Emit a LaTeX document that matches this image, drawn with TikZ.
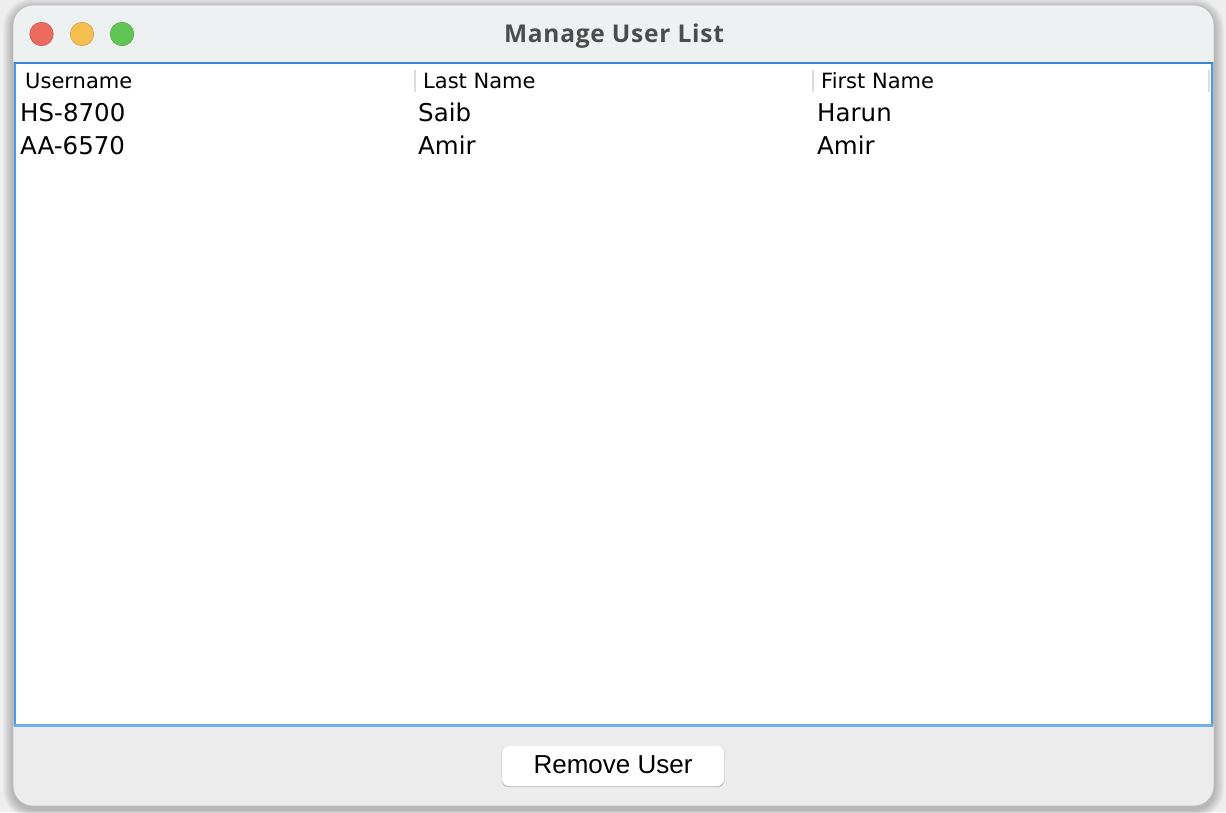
\documentclass[tikz,border=0pt]{standalone}
\usepackage{fontspec}
\setmainfont{DejaVu Sans}
\newfontfamily\titlefont[LetterSpace=3]{Open Sans}
\newfontfamily\buttonfont{Liberation Sans}
\definecolor{desk}{HTML}{EEEEEE}
\definecolor{titlebar}{HTML}{EEF1F2}
\definecolor{footbar}{HTML}{ECECEC}
\definecolor{frame}{HTML}{BDBDBD}
\definecolor{tableblue}{HTML}{4A9AE6}
\definecolor{tabletop}{HTML}{3A86D4}
\definecolor{sepgray}{HTML}{DCDCDC}
\definecolor{titletext}{HTML}{4C4C4C}
\definecolor{closered}{HTML}{ED6A5E}
\definecolor{minyellow}{HTML}{F5BF4F}
\definecolor{zoomgreen}{HTML}{61C554}

\begin{document}
\begin{tikzpicture}[x=1pt,y=-1pt]
  \tikzstyle{every node}=[inner sep=0pt,anchor=base west]
  \tikzstyle{cell}=[font=\fontsize{24.5}{29}\selectfont]
  \tikzstyle{head}=[font=\fontsize{21}{25}\selectfont]
  \tikzstyle{light}=[circle,minimum size=23.5pt,anchor=center]
  \tikzstyle{button}=[rounded corners=7pt,fill=white,minimum width=222pt,minimum height=40pt,
                      anchor=center,text height=18pt,text depth=4pt,
                      font=\buttonfont\fontsize{26}{30}\selectfont]
  \useasboundingbox (0,0) rectangle (1226,812);
  \fill[desk] (0,0) rectangle (1226,812);
  % soft shadow round the window
  \foreach \k in {1,...,10}
    \fill[black,opacity=0.022,rounded corners=20pt+\k pt]
      (13-\k,5-\k+3) rectangle (1214+\k,806+\k+3);
  % window body
  \begin{scope}
    \clip[rounded corners=20pt] (13,5) rectangle (1214,806);
    \fill[titlebar] (13,5) rectangle (1214,62);
    \fill[footbar] (13,726) rectangle (1214,806);
    \fill[white] (14,62) rectangle (1213,726);
  \end{scope}
  \draw[frame,line width=0.8pt,rounded corners=20pt] (13,5) rectangle (1214,806);
  % title bar
  \node[light,fill=closered,draw=closered!85!black,line width=0.6pt] (close) at (41.5,34) {};
  \node[light,fill=minyellow,draw=minyellow!85!black,line width=0.6pt] (minimize) at (82,34) {};
  \node[light,fill=zoomgreen,draw=zoomgreen!85!black,line width=0.6pt] (zoom) at (122,34) {};
  \node[anchor=base,text=titletext,font=\titlefont\bfseries\fontsize{24.5}{28}\selectfont] (title) at (614,42) {Manage User List};
  % table
  \draw[tableblue,line width=2pt] (15,63) rectangle (1212,725);
  \draw[tabletop,line width=2pt] (14,63) -- (1213,63);
  \draw[tableblue!80!white,line width=3pt] (14,725) -- (1213,725);
  \foreach \x in {415,813,1209}
    \draw[sepgray,line width=1.5pt] (\x,70) -- (\x,92);
  \node[head] (hUser) at (25,88) {Username};
  \node[head] (hLast) at (423,88) {Last Name};
  \node[head] (hFirst) at (821,88) {First Name};
  \foreach \u/\l/\f [count=\i] in {HS-8700/Saib/Harun,AA-6570/Amir/Amir}{
    \node[cell] (user\i) at (20,121.5+33*\i-33) {\u};
    \node[cell] (last\i) at (418,121.5+33*\i-33) {\l};
    \node[cell] (first\i) at (817,121.5+33*\i-33) {\f};
  }
  % button
  \fill[black,opacity=0.18,rounded corners=7pt] (501.5,746.5) rectangle (724.5,787.2);
  \node[button] (remove) at (613,766) {Remove User};
\end{tikzpicture}
\end{document}
